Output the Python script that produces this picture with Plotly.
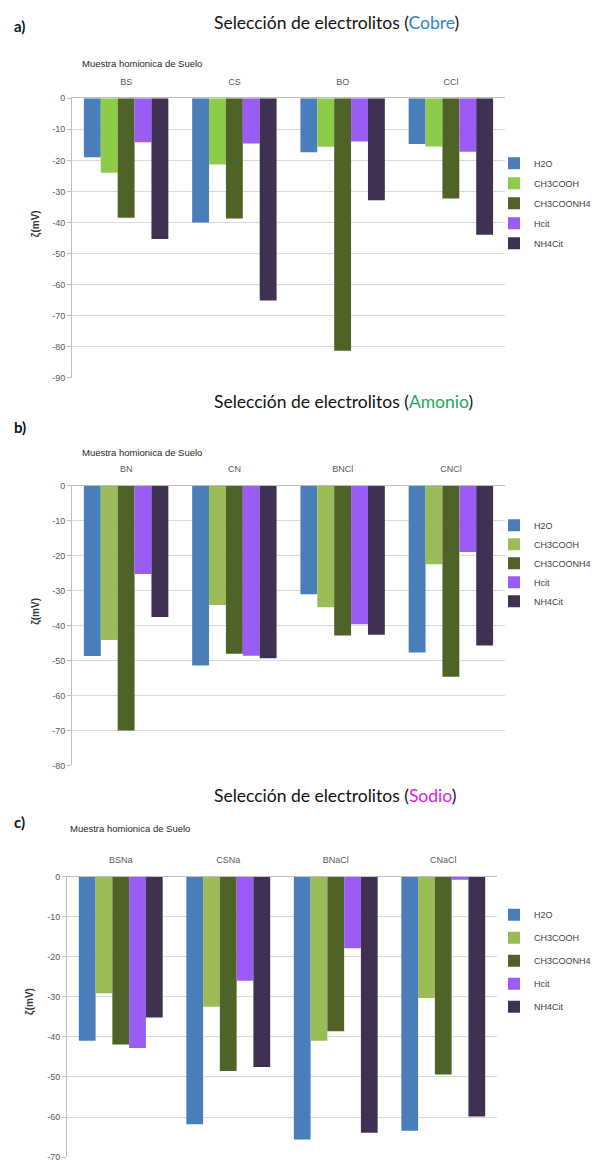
import plotly.graph_objects as go

# ---------------- data ----------------
series = ["H2O", "CH3COOH", "CH3COONH4", "Hcit", "NH4Cit"]

cat_a = ["BS", "CS", "BO", "CCl"]
a_h2o = [-19.0, -40.0, -17.4, -14.7]
a_ch3cooh = [-24.0, -21.3, -15.6, -15.5]
a_ch3coonh4 = [-38.5, -38.7, -81.3, -32.3]
a_hcit = [-14.2, -14.6, -13.9, -17.2]
a_nh4cit = [-45.3, -65.1, -32.8, -43.9]

cat_b = ["BN", "CN", "BNCl", "CNCl"]
b_h2o = [-48.7, -51.4, -31.0, -47.7]
b_ch3cooh = [-44.1, -34.1, -34.7, -22.4]
b_ch3coonh4 = [-70.0, -48.0, -42.8, -54.6]
b_hcit = [-25.2, -48.6, -39.6, -18.9]
b_nh4cit = [-37.5, -49.3, -42.6, -45.7]

cat_c = ["BSNa", "CSNa", "BNaCl", "CNaCl"]
c_h2o = [-41.0, -61.8, -65.6, -63.4]
c_ch3cooh = [-29.1, -32.5, -41.0, -30.3]
c_ch3coonh4 = [-41.9, -48.5, -38.6, -49.4]
c_hcit = [-42.8, -26.0, -17.9, -0.8]
c_nh4cit = [-35.2, -47.5, -63.9, -59.9]

ticks_a = [0, -10, -20, -30, -40, -50, -60, -70, -80, -90]
ticks_b = [0, -10, -20, -30, -40, -50, -60, -70, -80]
ticks_c = [0, -10, -20, -30, -40, -50, -60, -70]

titles = ["Cobre", "Amonio", "Sodio"]
panel_labels = ["a)", "b)", "c)"]
x_title = "Muestra homionica de Suelo"
y_title = "ζ(mV)"

# ---------------- styling ----------------
W, H = 603, 1164
OFF = 8  # page body margin


def px_y(p):
    return 1 - (p - OFF) / H


def px_x(p):
    return (p - OFF) / W


green_a = "#8FCB4A"
green_bc = "#9BBB59"
base_colors = ["#4A7EBB", None, "#4F6228", "#9A5CF5", "#3F3151"]
title_colors = ["#2E86C8", "#1BAA55", "#E020D8"]

TEXT_FONT = "Liberation Sans Narrow, Liberation Sans, Arial"
TICK_FONT = dict(family=TEXT_FONT, size=9, color="#595959")

panels = [
    dict(cats=cat_a, vals=[a_h2o, a_ch3cooh, a_ch3coonh4, a_hcit, a_nh4cit], ticks=ticks_a,
         green=green_a, top=94, bottom=376, left=72, right=505,
         title_y=18, lab_y=21, mu_x=80, mu_y=59, yt_x=36, leg_first=160, gap=1),
    dict(cats=cat_b, vals=[b_h2o, b_ch3cooh, b_ch3coonh4, b_hcit, b_nh4cit], ticks=ticks_b,
         green=green_bc, top=485, bottom=767, left=72, right=505,
         title_y=400, lab_y=426, mu_x=80, mu_y=451, yt_x=36, leg_first=525, gap=0),
    dict(cats=cat_c, vals=[c_h2o, c_ch3cooh, c_ch3coonh4, c_hcit, c_nh4cit], ticks=ticks_c,
         green=green_bc, top=879, bottom=1162, left=67, right=497,
         title_y=797, lab_y=824, mu_x=68, mu_y=831, yt_x=30, leg_first=918, gap=4),
]

fig = go.Figure()
annotations = []
for i, p in enumerate(panels):
    n = "" if i == 0 else str(i + 1)
    xa, ya = "x" + n, "y" + n
    leg = "legend" + n
    colors = list(base_colors)
    colors[1] = p["green"]
    for s, name in enumerate(series):
        fig.add_trace(go.Bar(
            x=p["cats"], y=p["vals"][s], name=name,
            marker=dict(color=colors[s], line=dict(width=0)),
            xaxis=xa, yaxis=ya, legend=leg, legendgroup=f"g{i}_{s}",
        ))
    fig.update_layout(**{
        "xaxis" + n: dict(
            domain=[px_x(p["left"]), px_x(p["right"])], anchor=ya, side="top",
            showline=True, linecolor="#BFBFBF", linewidth=1, showgrid=False,
            ticks="", tickfont=TICK_FONT, ticklabelstandoff=9, fixedrange=True,
        ),
        "yaxis" + n: dict(
            domain=[px_y(p["bottom"]), px_y(p["top"])], anchor=xa,
            range=[p["ticks"][-1], 0], tickvals=p["ticks"],
            ticktext=[str(t) for t in p["ticks"]],
            showgrid=True, gridcolor="#D9D9D9", gridwidth=1, zeroline=False,
            showline=True, linecolor="#BFBFBF", linewidth=1,
            ticks="outside", ticklen=4, tickcolor="#BFBFBF",
            tickfont=TICK_FONT, fixedrange=True,
        ),
        leg: dict(
            x=px_x(494), y=px_y(p["leg_first"] - 15), xanchor="left", yanchor="top",
            font=dict(family=TEXT_FONT, size=9, color="#404040"),
            bgcolor="rgba(0,0,0,0)", tracegroupgap=p["gap"], traceorder="grouped",
        ),
    })
    annotations.append(dict(
        text=f"Selección de electrolitos (<span style='color:{title_colors[i]}'>{titles[i]}</span>)",
        x=px_x(212), y=px_y(p["title_y"]), xref="paper", yref="paper",
        xanchor="left", yanchor="middle", showarrow=False,
        font=dict(family="Lato, Open Sans, sans-serif", size=17.5, color="#111111"),
    ))
    annotations.append(dict(
        text=f"<b>{panel_labels[i]}</b>", x=px_x(12), y=px_y(p["lab_y"]),
        xref="paper", yref="paper", xanchor="left", yanchor="middle", showarrow=False,
        font=dict(family="Lato, sans-serif", size=15, color="#111111"),
    ))
    annotations.append(dict(
        text=x_title, x=px_x(p["mu_x"]), y=px_y(p["mu_y"]),
        xref="paper", yref="paper", xanchor="left", yanchor="middle", showarrow=False,
        font=dict(family=TEXT_FONT, size=9.5, color="#262626"),
    ))
    annotations.append(dict(
        text=f"<b>{y_title}</b>", x=px_x(p["yt_x"]), y=px_y((p["top"] + p["bottom"]) / 2 - 15),
        xref="paper", yref="paper", xanchor="center", yanchor="middle", showarrow=False,
        textangle=-90, font=dict(family=TEXT_FONT, size=10, color="#333333"),
    ))

fig.update_layout(
    width=W, height=H, margin=dict(l=0, r=0, t=0, b=0),
    paper_bgcolor="white", plot_bgcolor="white",
    barmode="group", bargap=0.22, bargroupgap=0,
    showlegend=True, annotations=annotations,
)

fig.write_html("out.html")
